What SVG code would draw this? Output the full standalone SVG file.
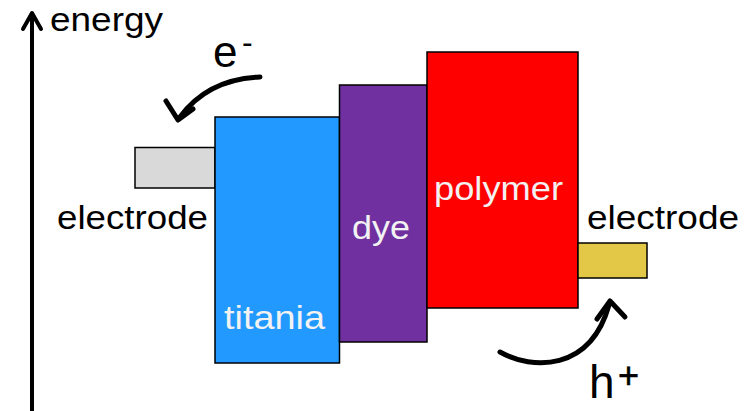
<svg xmlns="http://www.w3.org/2000/svg" width="752" height="411" viewBox="0 0 752 411">
  <style>
    .box { stroke: #000; stroke-width: 1.5; }
    .lbl { font-family: "Liberation Sans", Arial, sans-serif; font-size: 34px; fill: #000; }
    .inner { fill: #f2f2f2; }
    .flow { fill: none; stroke: #000; stroke-width: 5; stroke-linecap: round; }
    .head { fill: none; stroke: #000; stroke-width: 5; stroke-linecap: round; stroke-linejoin: round; }
  </style>

  <!-- energy axis -->
  <g id="axis">
    <line x1="32" y1="411" x2="32" y2="13" stroke="#000" stroke-width="4"/>
    <polyline points="23,29 32,13 41,29" class="head" style="stroke-width:4"/>
    <text x="50" y="31" class="lbl" style="font-size:33px" textLength="113" lengthAdjust="spacingAndGlyphs">energy</text>
  </g>

  <!-- left electrode -->
  <g id="electrode-left">
    <rect x="135" y="147.5" width="80" height="40.5" fill="#d9d9d9" class="box"/>
    <text x="57" y="229" class="lbl" textLength="151" lengthAdjust="spacingAndGlyphs">electrode</text>
  </g>

  <!-- titania layer -->
  <g id="titania">
    <rect x="215" y="117" width="124.5" height="246" fill="#2299ff" class="box"/>
    <text x="224" y="329" class="lbl inner" textLength="101" lengthAdjust="spacingAndGlyphs">titania</text>
  </g>

  <!-- dye layer -->
  <g id="dye">
    <rect x="339.5" y="85" width="87.5" height="257" fill="#7030a0" class="box"/>
    <text x="352" y="239" class="lbl inner" textLength="58" lengthAdjust="spacingAndGlyphs">dye</text>
  </g>

  <!-- polymer layer -->
  <g id="polymer">
    <rect x="427" y="52" width="151" height="256" fill="#ff0000" class="box"/>
    <text x="434" y="200" class="lbl inner" textLength="129" lengthAdjust="spacingAndGlyphs">polymer</text>
  </g>

  <!-- right electrode -->
  <g id="electrode-right">
    <rect x="578" y="243" width="69" height="35" fill="#e2c846" class="box"/>
    <text x="587" y="229" class="lbl" textLength="152" lengthAdjust="spacingAndGlyphs">electrode</text>
  </g>

  <!-- charge transfer arrows -->
  <g id="connectors">
    <path d="M260,77 Q208,79 180,117" class="flow"/>
    <polyline points="166,101 178,120 193,109" class="head"/>
    <path d="M500,352 C532,370 590,372 609,305" class="flow"/>
    <polyline points="597,319 610,301 625,317" class="head"/>
  </g>

  <!-- carrier labels -->
  <g id="carrier-electron">
    <text x="213" y="67" class="lbl" style="font-size:44px">e</text>
    <text x="242" y="53" class="lbl" style="font-size:32px">-</text>
  </g>
  <g id="carrier-hole">
    <text x="589" y="398" class="lbl" style="font-size:46px">h</text>
    <text x="618" y="388" class="lbl" style="font-size:36px; stroke:#000; stroke-width:0.6">+</text>
  </g>
</svg>
